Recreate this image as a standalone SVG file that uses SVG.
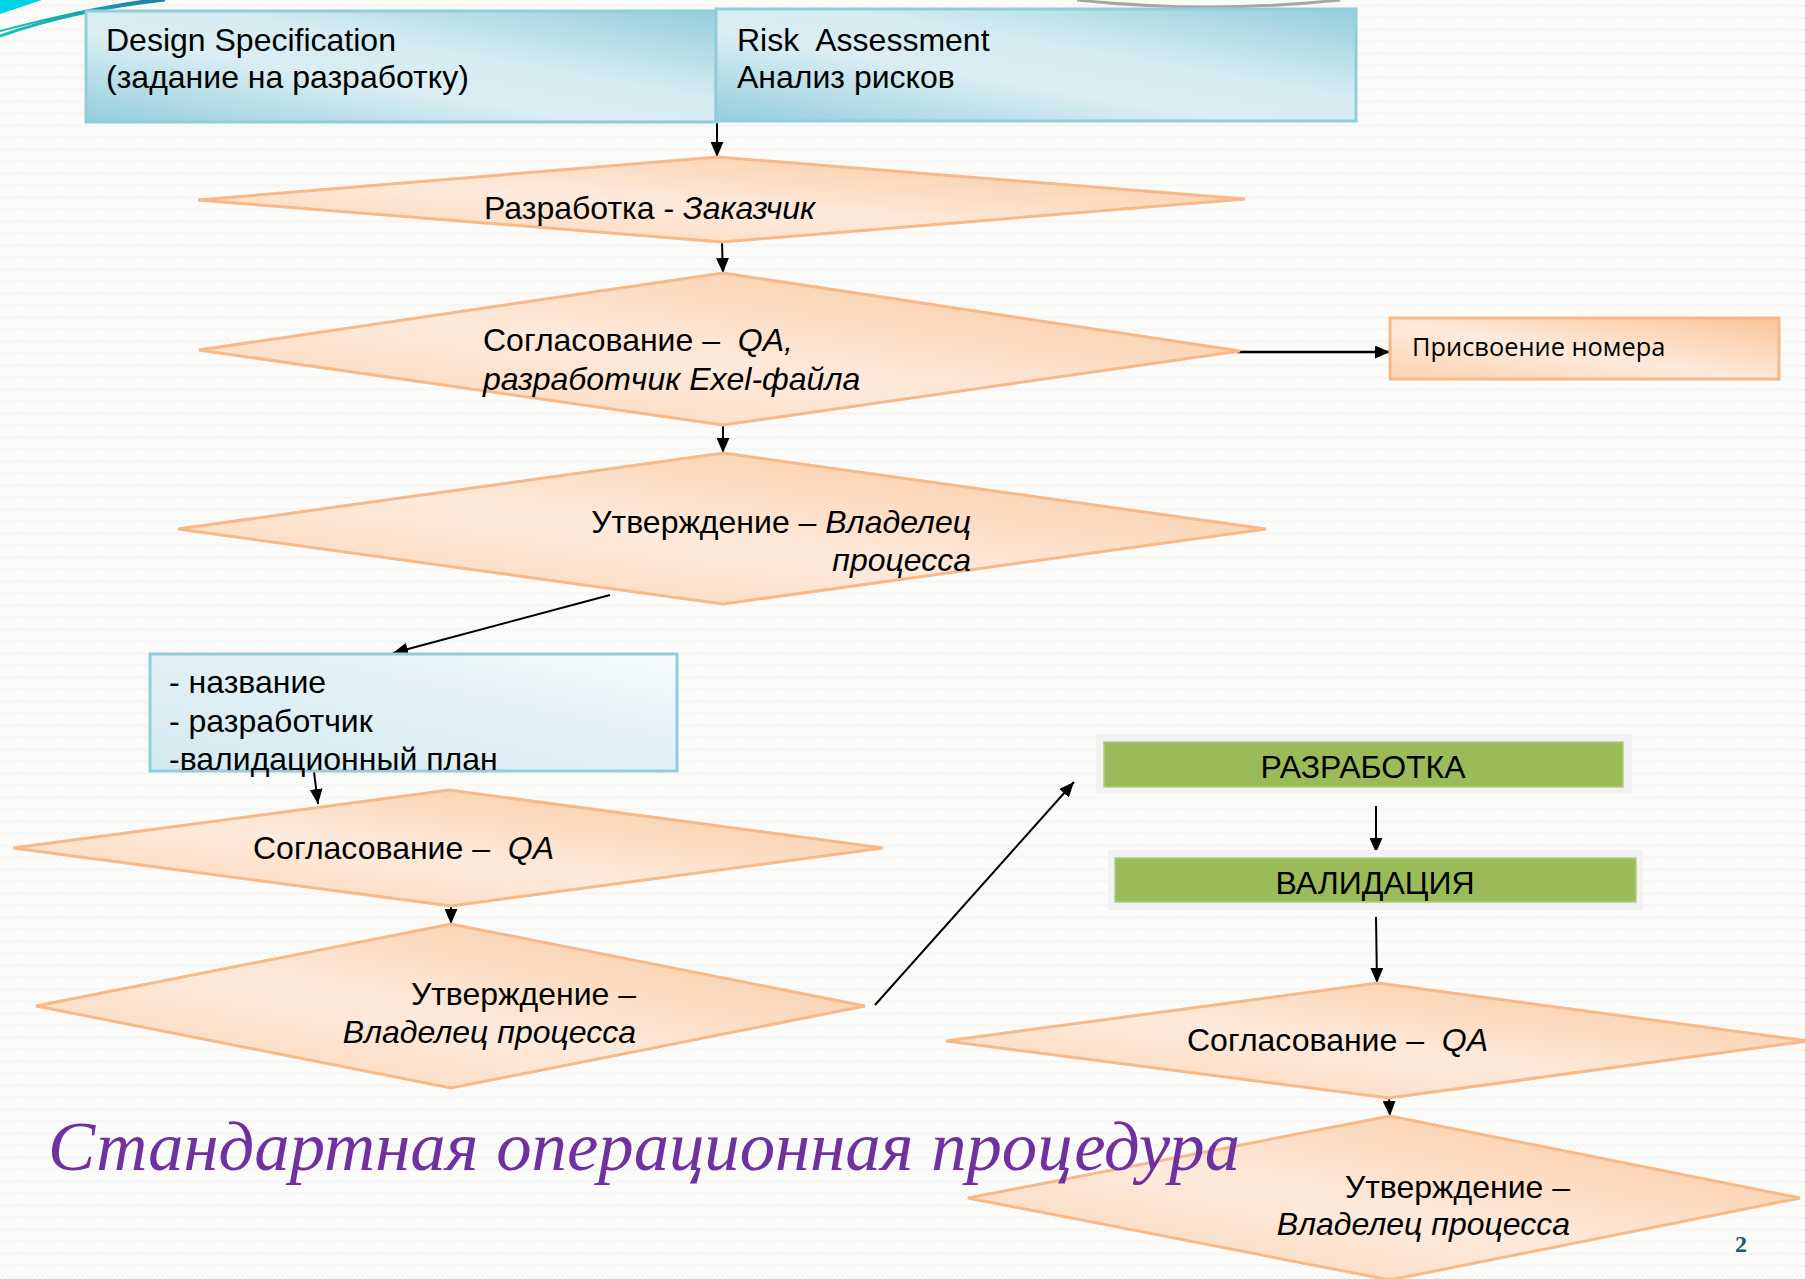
<svg xmlns="http://www.w3.org/2000/svg" width="1805" height="1279" viewBox="0 0 1805 1279">
<style>
.t{font-family:"Liberation Sans",Arial,sans-serif;font-size:32px;fill:#000}
.i{font-style:italic}
.dia{fill:url(#gOr);stroke:#F9B888;stroke-width:3}
.con{stroke:#000;stroke-width:2;fill:none;marker-end:url(#ah)}
</style>
<defs>
<pattern id="bg" width="10" height="12" patternUnits="userSpaceOnUse">
<rect width="10" height="12" fill="#FBFBFA"/>
<path d="M0,7 L2.5,4 L5,7 L7.5,4 L10,7" fill="none" stroke="#EFEFEF" stroke-width="1"/>
</pattern>
<linearGradient id="gOr" x1="0" y1="1" x2="1" y2="0">
<stop offset="0" stop-color="#FBD2B0"/>
<stop offset="0.45" stop-color="#FDEADC"/>
<stop offset="1" stop-color="#FAC598"/>
</linearGradient>
<linearGradient id="gTeal" x1="0" y1="1" x2="1" y2="0">
<stop offset="0" stop-color="#93CDDD"/>
<stop offset="0.4" stop-color="#DAEEF3"/>
<stop offset="0.6" stop-color="#D5ECF2"/>
<stop offset="1" stop-color="#93CDDD"/>
</linearGradient>
<linearGradient id="gLight" x1="0" y1="1" x2="1" y2="0">
<stop offset="0" stop-color="#D3EAF1"/>
<stop offset="0.6" stop-color="#E3F2F6"/>
<stop offset="1" stop-color="#F7FBFC"/>
</linearGradient>
<linearGradient id="gSwoosh" x1="0" y1="0" x2="1" y2="0">
<stop offset="0" stop-color="#19C6B4"/>
<stop offset="1" stop-color="#1E7FA8"/>
</linearGradient>
<marker id="ah" viewBox="0 0 14 12" refX="14" refY="6" markerWidth="15" markerHeight="13" markerUnits="userSpaceOnUse" orient="auto">
<path d="M0,0 L14,6 L0,12 z" fill="#000"/>
</marker>
</defs>
<rect width="1805" height="1279" fill="url(#bg)"/>
<g id="decor">
<path d="M0,0 L42,0 L0,14 z" fill="#00D2E6"/>
<path d="M0,36 C40,22 90,8 165,0" fill="none" stroke="url(#gSwoosh)" stroke-width="3"/>
<path d="M0,31 C50,18 100,6 150,0" fill="none" stroke="url(#gSwoosh)" stroke-width="2"/>
<path d="M1077,0 Q1208,14 1340,0" fill="none" stroke="#A6A6A6" stroke-width="3"/>
</g>
<g id="connectors">
<line class="con" x1="717" y1="123" x2="717" y2="157"/>
<line class="con" x1="722" y1="243" x2="723" y2="273"/>
<line class="con" x1="723" y1="426" x2="723" y2="453"/>
<line class="con" x1="1237" y1="352" x2="1390" y2="352" style="stroke-width:2.5"/>
<line class="con" x1="610" y1="595" x2="393" y2="653"/>
<line class="con" x1="314" y1="772" x2="318" y2="804"/>
<line class="con" x1="451" y1="906" x2="451" y2="924"/>
<line class="con" x1="875" y1="1005" x2="1074" y2="782"/>
<line class="con" x1="1376" y1="806" x2="1376" y2="853"/>
<line class="con" x1="1376" y1="917" x2="1377" y2="983"/>
<line class="con" x1="1389" y1="1098" x2="1390" y2="1116"/>
</g>
<g id="designSpec">
<rect x="86" y="11" width="630" height="111" fill="url(#gTeal)" stroke="#92CDDC" stroke-width="3"/>
<text class="t" x="106" y="51">Design Specification</text>
<text class="t" x="106" y="88">(задание на разработку)</text>
</g>
<g id="riskAssessment">
<rect x="716" y="9" width="640" height="112" fill="url(#gTeal)" stroke="#92CDDC" stroke-width="3"/>
<text class="t" x="737" y="51" xml:space="preserve">Risk  Assessment</text>
<text class="t" x="737" y="88">Анализ рисков</text>
</g>
<g id="d1">
<polygon class="dia" points="198,200 718,157 1245,199 722,242"/>
<text class="t" x="484" y="219">Разработка - <tspan class="i">Заказчик</tspan></text>
</g>
<g id="d2">
<polygon class="dia" points="199,350 723,273 1240,351 723,425"/>
<text class="t" x="483" y="351" xml:space="preserve">Согласование –  <tspan class="i">QA,</tspan></text>
<text class="t i" x="483" y="390">разработчик Exel-файла</text>
</g>
<g id="assignNumber">
<rect x="1390" y="318" width="389" height="61" fill="url(#gOr)" stroke="#F9B888" stroke-width="3"/>
<text x="1412" y="356" style="font-family:'Open Sans','Noto Sans',sans-serif;font-size:25.4px;fill:#000">Присвоение номера</text>
</g>
<g id="d3">
<polygon class="dia" points="178,529 723,453 1266,529 723,604"/>
<text class="t" x="971" y="533" text-anchor="end">Утверждение – <tspan class="i">Владелец</tspan></text>
<text class="t i" x="971" y="571" text-anchor="end">процесса</text>
</g>
<g id="fields">
<rect x="150" y="654" width="527" height="117" fill="url(#gLight)" stroke="#92CDDC" stroke-width="3"/>
<text class="t" x="169" y="693">- название</text>
<text class="t" x="169" y="732">- разработчик</text>
<text class="t" x="169" y="770">-валидационный план</text>
</g>
<g id="d4">
<polygon class="dia" points="13,848 449,790 883,848 451,906"/>
<text class="t" x="253" y="859" xml:space="preserve">Согласование –  <tspan class="i">QA</tspan></text>
</g>
<g id="d5">
<polygon class="dia" points="36,1006 451,924 865,1006 451,1088"/>
<text class="t" x="636" y="1005" text-anchor="end">Утверждение –</text>
<text class="t i" x="636" y="1043" text-anchor="end">Владелец процесса</text>
</g>
<g id="development">
<rect x="1096" y="734" width="536" height="60" fill="#F2F2F2"/>
<rect x="1104" y="742" width="519" height="45" fill="#9BBB59" stroke="#B3CC82" stroke-width="1.5"/>
<text class="t" x="1363" y="778" text-anchor="middle">РАЗРАБОТКА</text>
</g>
<g id="validation">
<rect x="1108" y="850" width="535" height="60" fill="#F2F2F2"/>
<rect x="1115" y="858" width="521" height="44" fill="#9BBB59" stroke="#B3CC82" stroke-width="1.5"/>
<text class="t" x="1375" y="894" text-anchor="middle">ВАЛИДАЦИЯ</text>
</g>
<g id="d6">
<polygon class="dia" points="946,1041 1378,983 1808,1041 1389,1098"/>
<text class="t" x="1187" y="1051" xml:space="preserve">Согласование –  <tspan class="i">QA</tspan></text>
</g>
<g id="d7">
<polygon class="dia" points="968,1198 1390,1116 1800,1198 1390,1280"/>
<text class="t" x="1570" y="1198" text-anchor="end">Утверждение –</text>
<text class="t i" x="1570" y="1235" text-anchor="end">Владелец процесса</text>
</g>
<g id="title">
<text x="48" y="1170" textLength="1192" lengthAdjust="spacingAndGlyphs" style="font-family:'Liberation Serif','Times New Roman',serif;font-style:italic;font-size:70px;fill:#7030A0">Стандартная операционная процедура</text>
</g>
<g id="pageNum">
<text x="1735" y="1252" style="font-family:'Liberation Serif',serif;font-weight:bold;font-size:24px;fill:#215968">2</text>
</g>
</svg>
